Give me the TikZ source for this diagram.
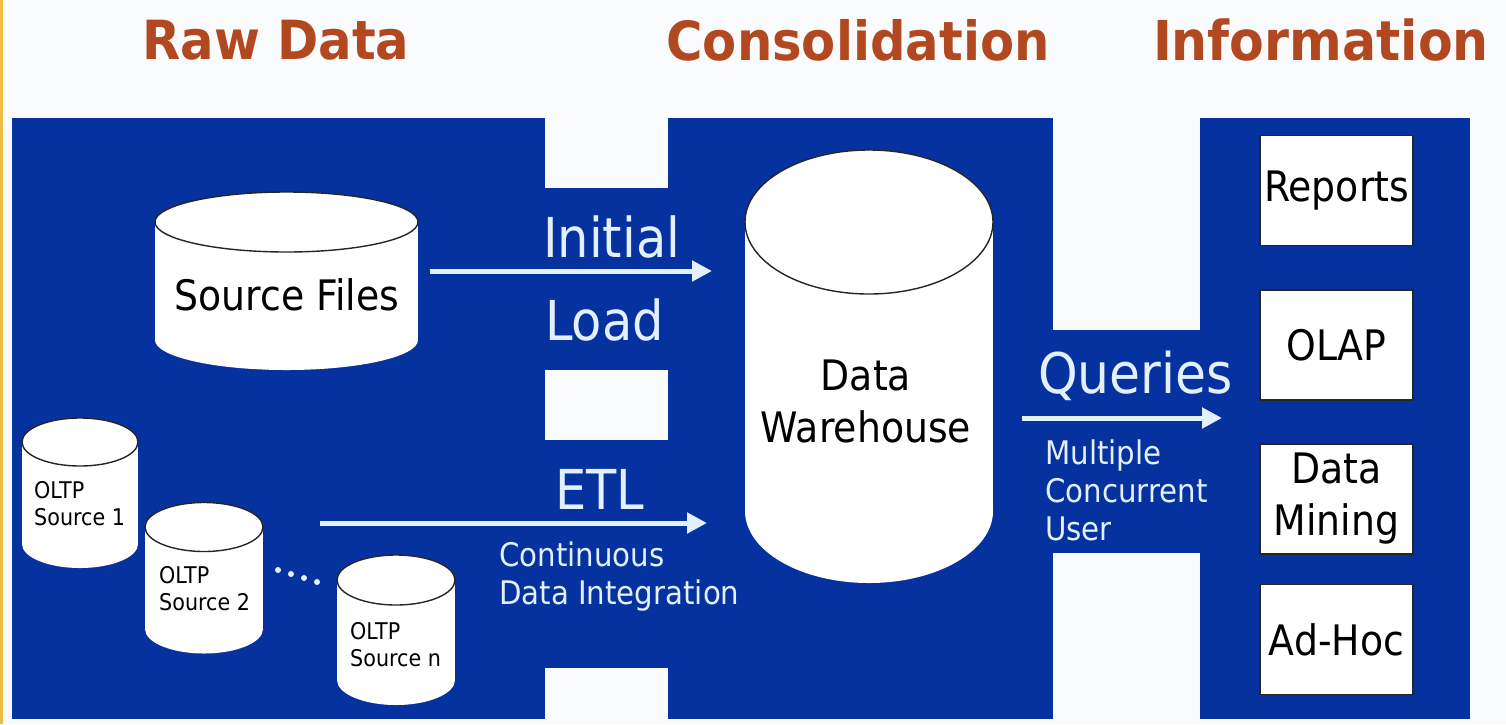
\documentclass[tikz,border=0pt]{standalone}
\usepackage{fontspec}
\setmainfont{DejaVu Sans}[FakeStretch=0.9]
\newfontfamily\headfont{DejaVu Sans}[FakeStretch=0.92]
\usetikzlibrary{arrows.meta}

\definecolor{dwblue}{RGB}{6,50,160}
\definecolor{dwlight}{RGB}{226,240,255}
\definecolor{dwtitle}{RGB}{178,72,32}
\definecolor{dwpaper}{RGB}{249,251,252}
\definecolor{dwedge}{RGB}{236,190,70}

% database drum: centre x, x radius, top centre y, bottom centre y, y radius
\newcommand\dbdrum[5]{%
  \fill[white] (#1-#2,#3) rectangle (#1+#2,#4);
  \fill[white] (#1,#4) ellipse[x radius=#2, y radius=#5];
  \filldraw[fill=white, draw=black!85, line width=1.4pt] (#1,#3) ellipse[x radius=#2, y radius=#5];
}

\tikzset{
  heading/.style={font=\headfont\bfseries\fontsize{54}{60}\selectfont, text=dwtitle, inner sep=0},
  flow/.style={line width=5pt, draw=dwlight, -{Triangle[length=20pt,width=20pt]}},
  flowlabel/.style={text=dwlight, font=\fontsize{55}{60}\selectfont, inner sep=0},
  note/.style={text=dwlight, font=\fontsize{32.5}{38}\selectfont, align=left, inner sep=0},
  tool/.style={draw=black!85, line width=1.5pt, fill=white, minimum width=153pt,
    minimum height=110pt, font=\fontsize{42}{52}\selectfont, align=center, inner sep=0},
  drumlabel/.style={text=black, font=\fontsize{42}{52}\selectfont, align=center, inner sep=0},
  oltplabel/.style={text=black, font=\fontsize{23}{27}\selectfont, align=left, inner sep=0},
  gap/.style={fill=dwpaper},
}

\begin{document}
\begin{tikzpicture}[x=1pt,y=-1pt]
\useasboundingbox (0,0) rectangle (1506,724);
\fill[dwpaper] (0,0) rectangle (1506,724);
\fill[dwedge] (0,0) rectangle (3,724);

% headings
\node[heading] (h-raw) at (276,40) {Raw Data};
\node[heading] (h-cons) at (858,40) {Consolidation};
\node[heading, font=\headfont\bfseries\fontsize{55}{60}\selectfont] (h-info) at (1321,40) {Information};

% blue panel with its notches
\fill[dwblue] (12,118) rectangle (1470,719);
\fill[gap] (545,117) rectangle (668,188);
\fill[gap] (545,370) rectangle (668,440);
\fill[gap] (545,668) rectangle (668,720);
\fill[gap] (1053,117) rectangle (1200,330);
\fill[gap] (1053,553) rectangle (1200,720);

% source files and warehouse drums
\dbdrum{286.5}{131.5}{222}{340}{30}
\node[drumlabel] (srcfiles) at (287,295) {Source Files};
\dbdrum{869}{124}{222}{511}{72}
\node[drumlabel] (dw) at (866,401) {Data\\Warehouse};

% OLTP sources
\dbdrum{80}{58}{442}{544}{24}
\node[oltplabel, anchor=west] (oltp1) at (34,504) {OLTP\\Source 1};
\dbdrum{204}{59}{527}{629}{24.5}
\node[oltplabel, anchor=west] (oltp2) at (159,589) {OLTP\\Source 2};
\dbdrum{396}{59}{580}{680}{25}
\node[oltplabel, anchor=west] (oltpn) at (350,645) {OLTP\\Source n};
\foreach \p in {(278,570),(291,574),(304,578),(317,582)}
  \fill[dwlight] \p circle[radius=3];

% flows into the warehouse
\coordinate (load-from) at (430,271);
\coordinate (load-to) at (712,271);
\draw[flow] (load-from) -- (load-to);
\node[flowlabel, anchor=west] (l-initial) at (543,237) {Initial};
\node[flowlabel, anchor=west] (l-load) at (545,320) {Load};

\coordinate (etl-from) at (320,523);
\coordinate (etl-to) at (707,523);
\draw[flow] (etl-from) -- (etl-to);
\node[flowlabel] (l-etl) at (600,489) {ETL};
\node[note, anchor=west] (l-cont) at (499,577) {Continuous\\Data Integration};

% queries out of the warehouse
\coordinate (q-from) at (1022,418);
\coordinate (q-to) at (1222,418);
\draw[flow] (q-from) -- (q-to);
\node[flowlabel, font=\fontsize{56}{60}\selectfont, anchor=west] (l-queries) at (1038,376) {Queries};
\node[note, anchor=west] (l-users) at (1045,490) {Multiple\\Concurrent\\User};

% information tools
\node[tool] (reports) at (1336.5,190.5) {Reports};
\node[tool] (olap) at (1336.5,345) {OLAP};
\node[tool] (mining) at (1336.5,499) {Data\\Mining};
\node[tool] (adhoc) at (1336.5,639.5) {Ad-Hoc};
\end{tikzpicture}
\end{document}
